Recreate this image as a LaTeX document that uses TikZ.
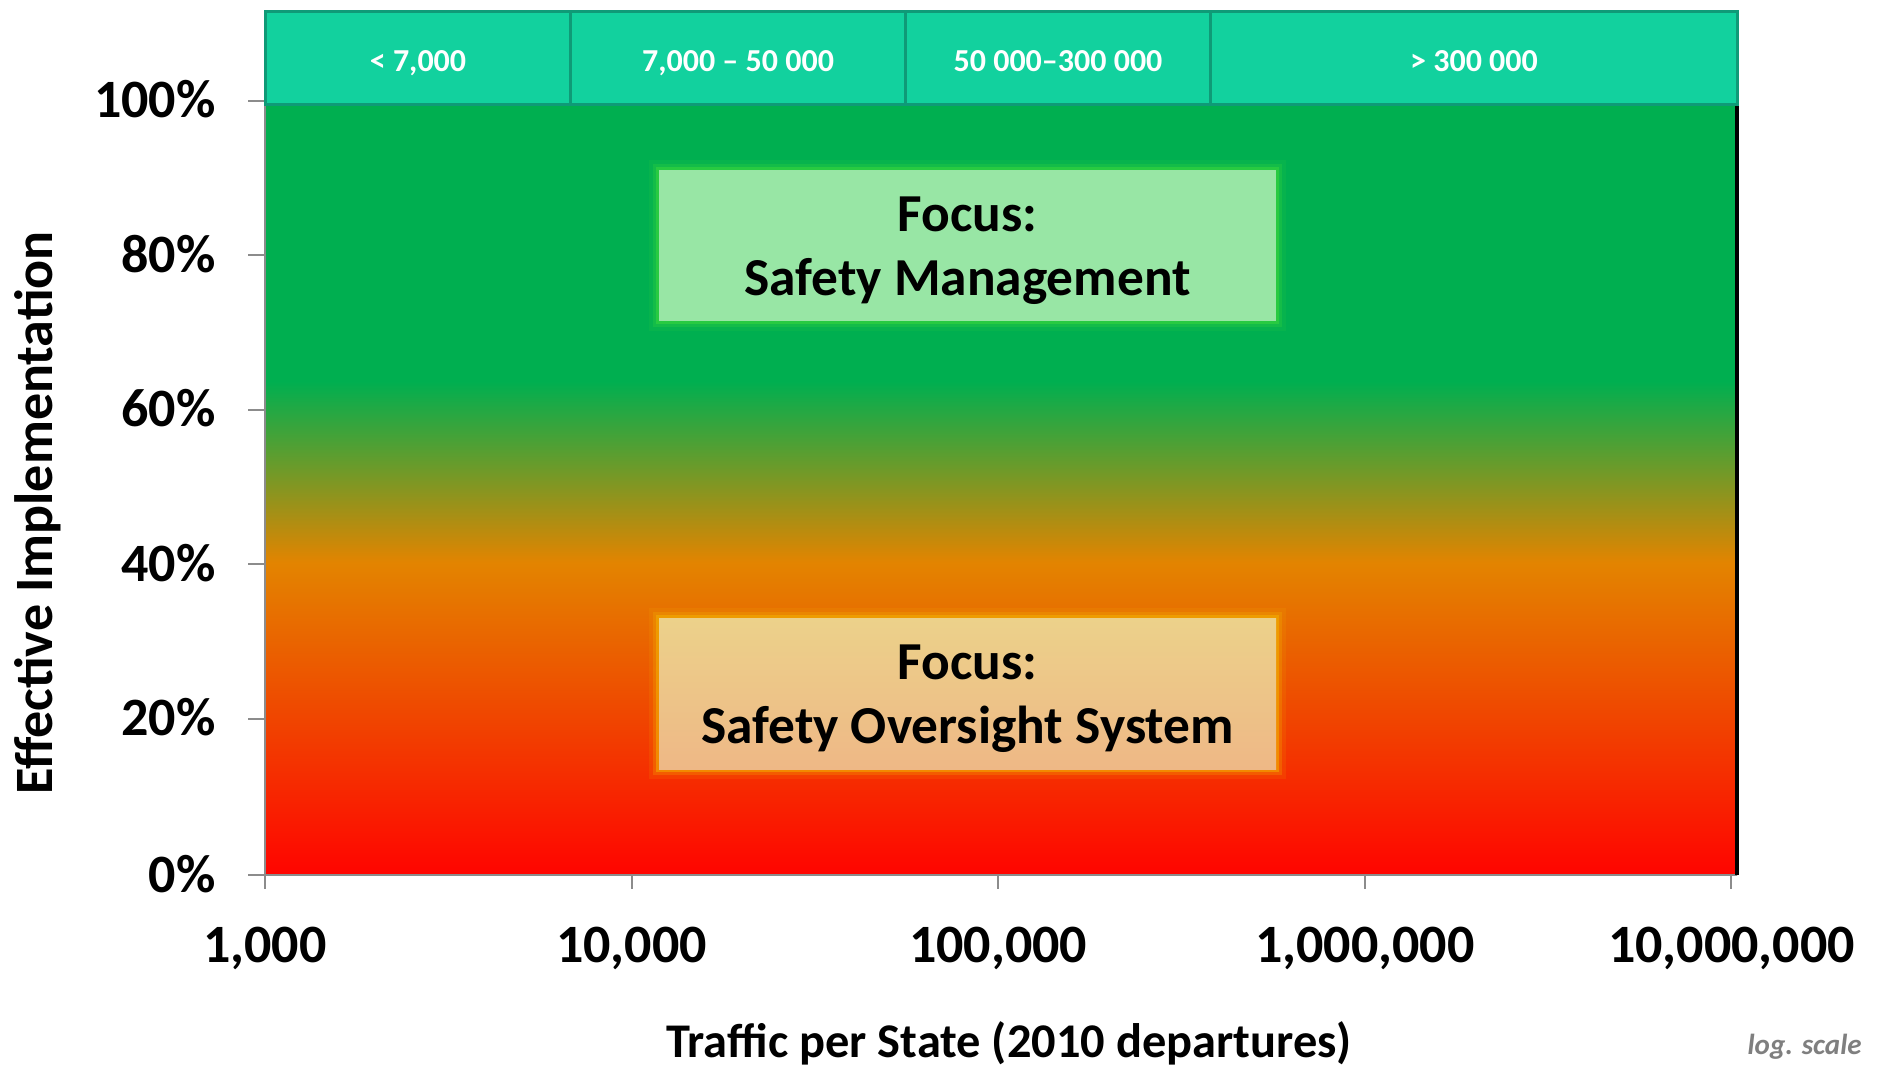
\documentclass[tikz,border=0pt]{standalone}
\usepackage{fontspec}
\setmainfont{Carlito}
\definecolor{cRed}{HTML}{FF0400}
\definecolor{cRedOr}{HTML}{F04400}
\definecolor{cOrange}{HTML}{E38400}
\definecolor{cGreen}{HTML}{00AF50}
\definecolor{bandFill}{HTML}{12D19E}
\definecolor{bandLine}{HTML}{0F9A77}
\definecolor{axisGray}{HTML}{8C8C8C}
\definecolor{smFill}{HTML}{98E6A5}
\definecolor{smGlow}{HTML}{3CD83C}
\definecolor{osTop}{HTML}{ECD18A}
\definecolor{osBot}{HTML}{EEB886}
\definecolor{osGlow}{HTML}{F2B400}
\definecolor{noteGray}{HTML}{7F7F7F}
\pgfdeclareverticalshading{perfshade}{100bp}{color(0bp)=(cRed); color(25bp)=(cRed); color(35bp)=(cRedOr); color(45.25bp)=(cOrange); color(57bp)=(cGreen); color(100bp)=(cGreen)}
\begin{document}
\begin{tikzpicture}[x=0.5pt,y=-0.5pt,
  axisline/.style={draw=axisGray, line width=1pt},
  bandcell/.style={draw=bandLine, fill=bandFill, line width=1.5pt, inner sep=0pt,
    minimum height=46.5pt, text=white},
  bandtext/.style={inner sep=0pt, text=white, font=\bfseries\fontsize{16}{19}\selectfont},
  ticklab/.style={font=\bfseries\fontsize{27}{32}\selectfont, inner sep=0pt},
  focusbox/.style={inner sep=0pt, minimum width=308.5pt, minimum height=75.5pt, align=center,
    font=\bfseries\fontsize{26.7}{32}\selectfont},
  smbox/.style={focusbox, fill=smFill,
    preaction={draw=smGlow, line width=10pt, draw opacity=0.12},
    preaction={draw=smGlow, line width=6pt, draw opacity=0.25},
    preaction={draw=smGlow, line width=3pt, draw opacity=0.5}},
  osbox/.style={focusbox, top color=osTop, bottom color=osBot,
    preaction={draw=osGlow, line width=10pt, draw opacity=0.12},
    preaction={draw=osGlow, line width=6pt, draw opacity=0.25},
    preaction={draw=osGlow, line width=3pt, draw opacity=0.5}},
  focustext/.style={inner sep=0pt, align=center, font=\bfseries\fontsize{26.7}{32}\selectfont},
  axtitle/.style={font=\bfseries\fontsize{24.2}{29}\selectfont, inner sep=0pt}
]
\useasboundingbox (0,0) rectangle (1879,1067);
\fill[white] (0,0) rectangle (1879,1067);
% plot area corners
\coordinate (pTL) at (265,104);
\coordinate (pBL) at (265,875);
\coordinate (pTR) at (1737,104);
\coordinate (pBR) at (1737,875);
% gradient field
\shade[shading=perfshade] (pTL) rectangle (pBR);
% axes
\draw[axisline] (pTL) -- (pBL) -- (pBR);
\draw[black, line width=1.6pt] (pTR) -- (pBR);
% y ticks and labels
\foreach \yy/\lab [count=\i] in {100.7/100\%, 255.4/80\%, 409.8/60\%, 564.2/40\%, 718.6/20\%, 875/0\%}{
  \coordinate (yt\i) at (248,\yy);
  \coordinate (ya\i) at (265,\yy);
  \draw[axisline] (yt\i) -- (ya\i);
  \node[ticklab, anchor=base east] (ylab\i) at (216,\yy+17) {\lab};
}
% x ticks and labels
\foreach \xx/\lab [count=\i] in {265/{1,000}, 631.6/{10,000}, 998.2/{100,000}, 1364.8/{1,000,000}, 1731.4/{10,000,000}}{
  \coordinate (xa\i) at (\xx,875);
  \coordinate (xt\i) at (\xx,889);
  \draw[axisline] (xa\i) -- (xt\i);
  \node[ticklab, anchor=base] (xlab\i) at (\xx,962) {\lab};
}
% top band
\node[bandcell, minimum width=152.5pt] (c1) at (417.7,57.5) {};
\node[bandcell, minimum width=167.75pt] (c2) at (738.1,57.5) {};
\node[bandcell, minimum width=152.2pt] (c3) at (1058.1,57.5) {};
\node[bandcell, minimum width=263.4pt] (c4) at (1473.6,57.5) {};
\node[bandtext, anchor=base] (t1) at (418,71) {< 7,000};
\node[bandtext, anchor=base] (t2) at (738,71) {7,000 – 50 000};
\node[bandtext, anchor=base] (t3) at (1058,71) {50 000–300 000};
\node[bandtext, anchor=base] (t4) at (1474,71) {> 300 000};
% focus boxes
\node[smbox] (sm) at (967.5,245.5) {};
\node[focustext] (smt) at (967.5,251) {Focus:\\Safety Management};
\node[osbox] (os) at (967.5,693.5) {};
\node[focustext] (ost) at (967.5,699) {Focus:\\Safety Oversight System};
% axis titles
\node[axtitle] (xtitle) at (1009,1043) {Traffic per State (2010 departures)};
\node[axtitle, font=\bfseries\fontsize{27}{32}\selectfont, rotate=90] (ytitle) at (38,513) {Effective Implementation};
\node[inner sep=0pt, anchor=base east, text=noteGray, font=\bfseries\itshape\fontsize{14.5}{17}\selectfont] (logs) at (1862,1054) {log. scale};
\end{tikzpicture}
\end{document}
